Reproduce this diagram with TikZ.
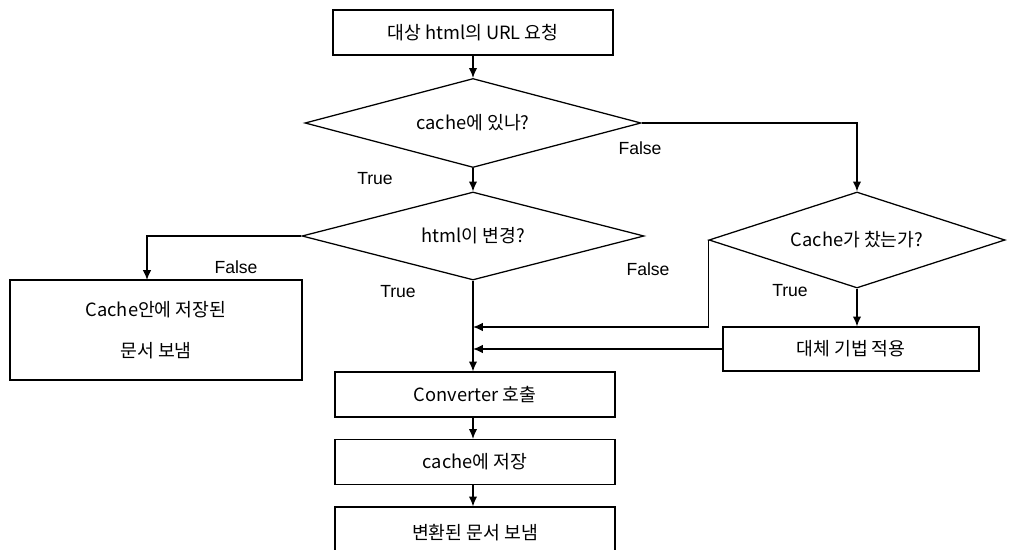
\documentclass[tikz,border=0pt]{standalone}
\usepackage{fontspec}
\setmainfont{Noto Sans CJK KR}
\newfontfamily\labfont{Liberation Sans}
\usetikzlibrary{arrows.meta,shapes.geometric}

\begin{document}
\begin{tikzpicture}[x=0.025cm, y=-0.025cm, line width=0.9pt,
    box/.style={draw, rectangle, inner sep=0pt, minimum width=7cm, minimum height=1.125cm, font=\fontsize{13}{15}\selectfont},
    dec/.style={draw, diamond, aspect=3.5, inner sep=0pt, font=\fontsize{13}{15}\selectfont},
    lab/.style={font=\labfont\fontsize{12.5}{15}\selectfont, inner sep=0pt},
    flow/.style={-{Latex[length=7pt,width=6pt]}}]

                    \useasboundingbox (0,0) rectangle (1016,550);
                    \clip (0,0) rectangle (1016,550);

                    \node[box] (url) at (473,32.5) {대상 html의 URL 요청};
                    \node[dec, minimum width=8.4cm, minimum height=2.225cm] (d1) at (473,123) {cache에 있나?};
                    \node[dec, minimum width=8.55cm, minimum height=2.2cm] (d2) at (473,236) {html이 변경?};
                    \node[dec, minimum width=7.4cm, minimum height=2.4cm] (d3) at (857,240) {Cache가 찼는가?};
                    \node[box, minimum width=7.3cm, minimum height=2.5cm, align=center] (hit) at (156,330) {Cache안에 저장된\\[14pt]문서 보냄};
                    \node[box, minimum width=6.4cm, minimum height=1.1cm] (alt) at (851,349) {대체 기법 적용};
                    \node[box] (conv) at (475,394.5) {Converter 호출};
                    \node[box] (store) at (475,462) {cache에 저장};
                    \node[box, minimum height=1.3cm] (send) at (475,533) {변환된 문서 보냄};

                    \coordinate (c1) at (147,280);
                    \coordinate (j1) at (473,327);
                    \coordinate (j2) at (473,349);

                    \node[lab] (t1) at (375,179) {True};
                    \node[lab] (f1) at (640,148) {False};
                    \node[lab] (f2) at (236,267) {False};
                    \node[lab] (t2) at (398,292) {True};
                    \node[lab] (f3) at (648,269) {False};
                    \node[lab] (t3) at (790,291) {True};

                    \draw[flow] (url) -- (d1);
                    \draw[flow] (d1) -- (d2);
                    \draw[flow] (d1.east) -| (d3.north);
                    \draw[flow] (d2.west) -| (c1);
                    \draw[flow] (d2.south) -- (conv.north -| d2.south);
                    \draw[flow] (d3.west) |- (j1);
                    \draw[flow] (d3.south) -- (d3.south |- alt.north);
                    \draw[flow] (alt) -- (j2);
                    \draw[flow] (conv.south -| d2.south) -- (store.north -| d2.south);
                    \draw[flow] (store.south -| d2.south) -- (send.north -| d2.south);

                \end{tikzpicture}
\end{document}
